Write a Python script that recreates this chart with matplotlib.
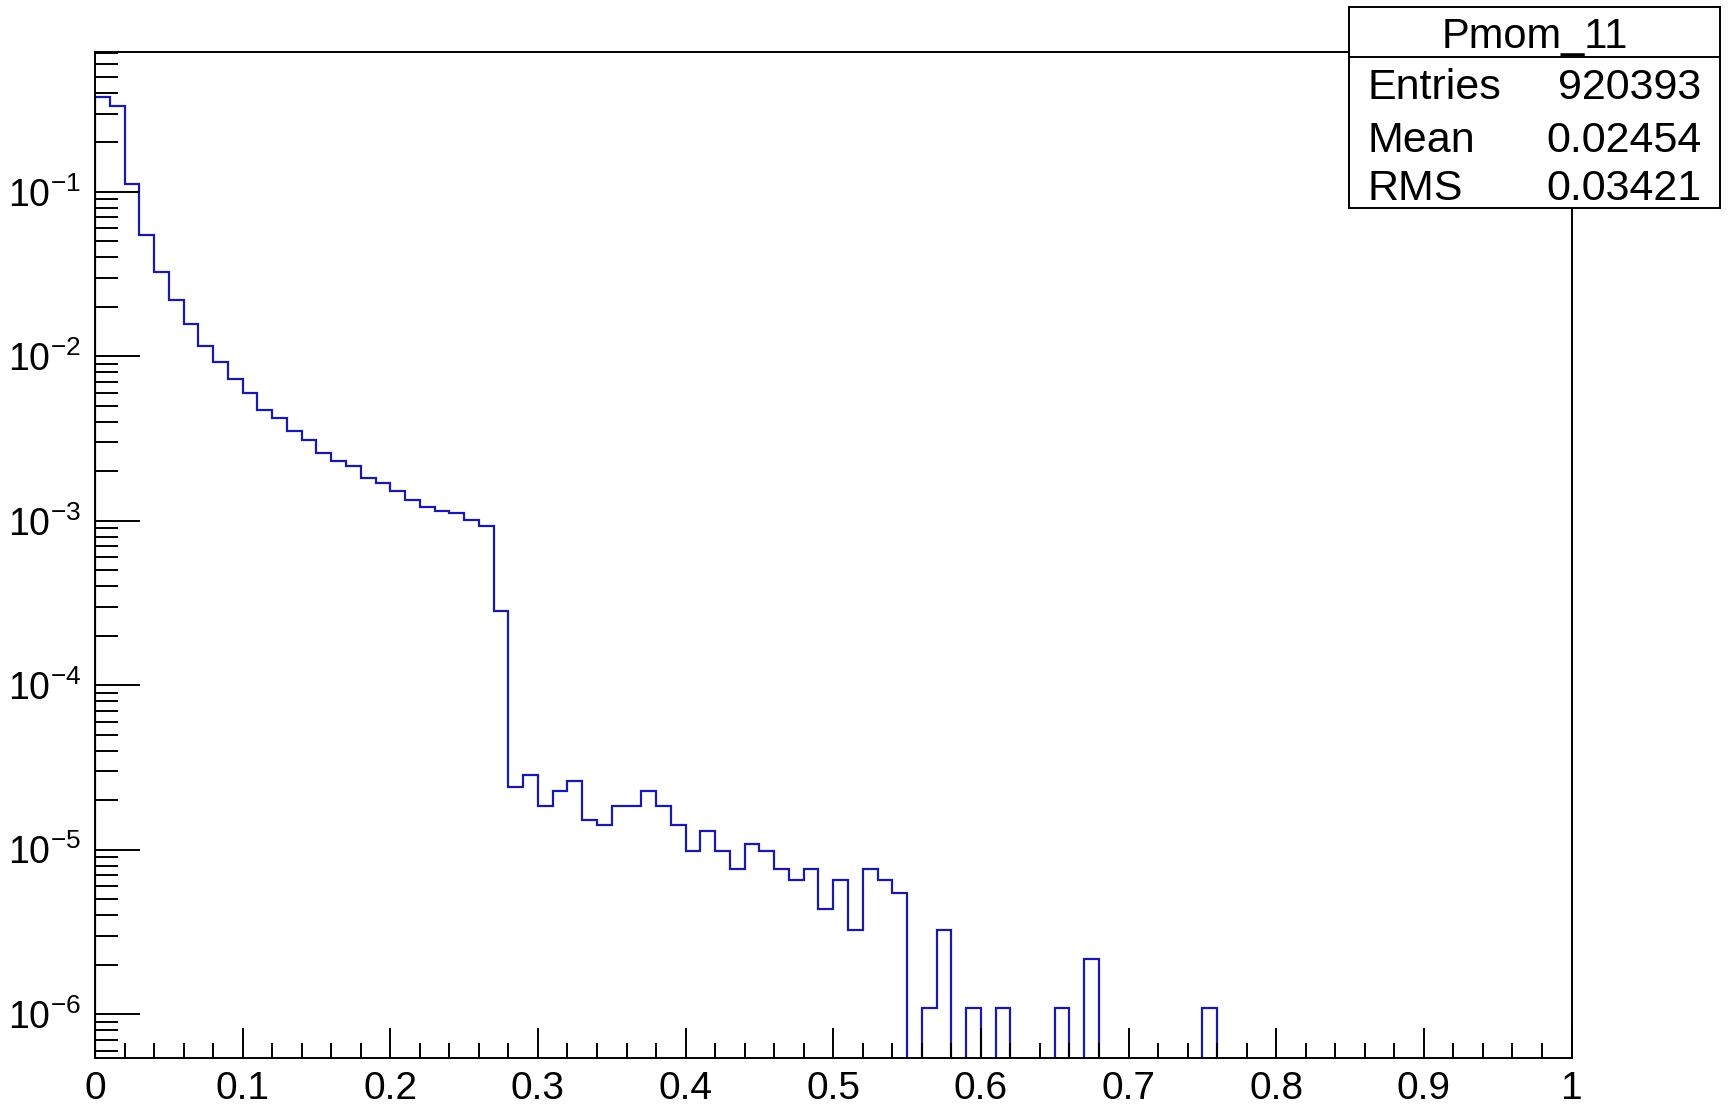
import numpy as np
import matplotlib
matplotlib.use("Agg")
import matplotlib.pyplot as plt
from matplotlib.ticker import FixedLocator, LogLocator, NullFormatter, FuncFormatter

plt.rcParams['font.family'] = ['Liberation Sans', 'DejaVu Sans']
plt.rcParams['mathtext.fontset'] = 'custom'
plt.rcParams['mathtext.rm'] = 'Liberation Sans'
plt.rcParams['mathtext.it'] = 'Liberation Sans'

# histogram Pmom_11: 100 bins on [0, 1], counts per bin
hist_name = "Pmom_11"
n_bins = 100
x_min, x_max = 0.0, 1.0
entries = 920393
mean_val = 0.02454
rms_val = 0.03421
counts = [
    349000, 306600, 102500, 50450, 29920, 20290, 14450, 10570, 8520, 6750,
    5495, 4355, 3910, 3240, 2855, 2375, 2133, 1988, 1686, 1559,
    1399, 1235, 1112, 1059, 1030, 925, 859, 259, 22, 26,
    17, 21, 24, 14, 13, 17, 17, 21, 17, 13,
    9, 12, 9, 7, 10, 9, 7, 6, 7, 4,
    6, 3, 7, 6, 5, 0, 1, 3, 0, 1,
    0, 1, 0, 0, 0, 1, 0, 2, 0, 0,
    0, 0, 0, 0, 0, 1, 0, 0, 0, 0,
    0, 0, 0, 0, 0, 0, 0, 0, 0, 0,
    0, 0, 0, 0, 0, 0, 0, 0, 0, 0,
]

edges = np.linspace(x_min, x_max, n_bins + 1)
counts = np.array(counts, dtype=float)
# normalised to the number of entries; empty bins drop out of the log range
vals = np.where(counts > 0, counts / entries, 1e-12)

fig = plt.figure(figsize=(17.28, 11.07), dpi=100)
ax = fig.add_axes([0.05498, 0.04399, 0.85446, 0.90931])

ax.stairs(vals, edges, color='#1a1aaa', lw=1.6)

ax.set_yscale('log')
ax.set_xlim(x_min, x_max)
ax.set_ylim(5.38e-7, 0.713)

# x axis: labels every 0.1, small ticks every 0.02
ax.xaxis.set_major_locator(FixedLocator(np.round(np.arange(0, 1.01, 0.1), 1)))
ax.xaxis.set_minor_locator(FixedLocator(np.arange(0, 1.001, 0.02)))
ax.xaxis.set_major_formatter(FuncFormatter(lambda v, p: '%g' % v))

ax.yaxis.set_major_locator(FixedLocator([1e-6, 1e-5, 1e-4, 1e-3, 1e-2, 1e-1]))
ax.yaxis.set_minor_locator(LogLocator(base=10, subs=np.arange(2, 10), numticks=20))
ax.yaxis.set_minor_formatter(NullFormatter())
ax.yaxis.set_major_formatter(FuncFormatter(
    lambda v, p: r'$\mathregular{10^{%d}}$' % int(round(np.log10(v)))))

ax.tick_params(axis='x', which='major', direction='in', length=21.6, width=1.4,
               labelsize=28, pad=9)
ax.tick_params(axis='x', which='minor', direction='in', length=10.8, width=1.4)
ax.tick_params(axis='y', which='major', direction='in', length=32.4, width=1.4,
               labelsize=27, pad=10)
ax.tick_params(axis='y', which='minor', direction='in', length=16.6, width=1.4)
for s in ax.spines.values():
    s.set_linewidth(1.4)

# stats box
sb = fig.add_axes([0.7808, 0.8118, 0.2146, 0.1816])
sb.set_xticks([])
sb.set_yticks([])
for s in sb.spines.values():
    s.set_linewidth(1.4)
sb.axhline(0.7512, color='black', lw=1.4)
sb.text(0.5, 0.80, hist_name, ha='center', va='baseline', fontsize=30)
rows = [("Entries", "%d" % entries),
        ("Mean", "%.5f" % mean_val),
        ("RMS", "%.5f" % rms_val)]
for (lab, txt), yb in zip(rows, [0.5423, 0.2816, 0.0413]):
    sb.text(0.05, yb, lab, ha='left', va='baseline', fontsize=31)
    sb.text(0.95, yb, txt, ha='right', va='baseline', fontsize=31)

fig.savefig("out.png", dpi=100)
